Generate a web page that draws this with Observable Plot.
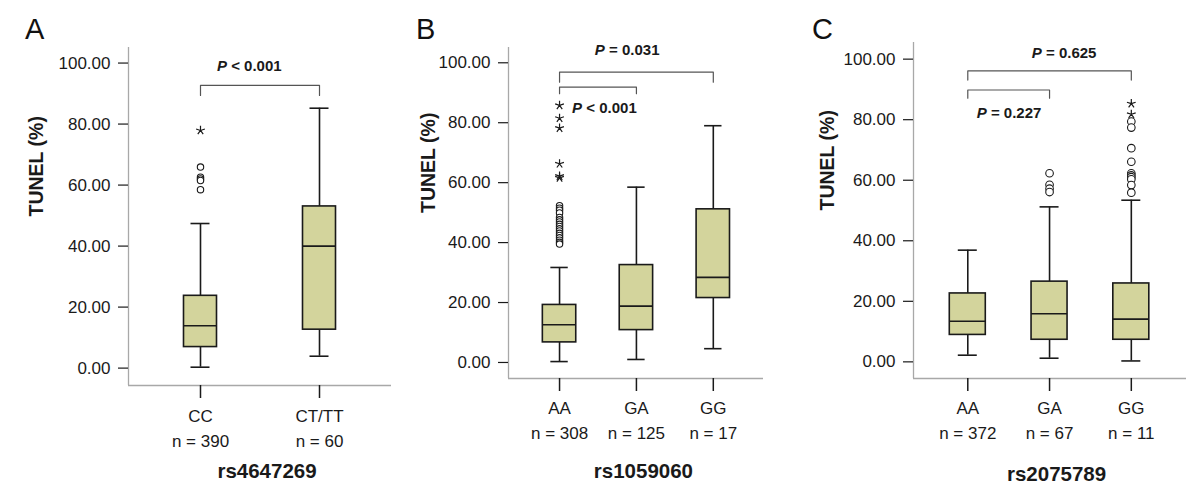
<!DOCTYPE html>
<html>
<head>
<meta charset="utf-8">
<script src="https://cdn.jsdelivr.net/npm/d3@7"></script>
<script src="https://cdn.jsdelivr.net/npm/@observablehq/plot@0.6"></script>
<style>
  html, body { margin: 0; padding: 0; background: #fff; }
  #root { position: relative; width: 1200px; height: 498px; overflow: hidden; background: #fff;
          font-family: 'Liberation Sans', Arial, Helvetica, sans-serif; color: #111; }
  .panel { position: absolute; top: 0; }
  .letter { position: absolute; font-size: 29px; line-height: 29px; color: #111; }
</style>
</head>
<body>
<div id="root"></div>
<script>
// ---------------- DATA ----------------
const yTicks = [0, 20, 40, 60, 80, 100];

// Panel A: rs4647269
const titleA = "rs4647269";
const catsA = ["CC", "CT/TT"];
const nA = [390, 60];
const q1A = [6.9, 12.6];
const medA = [13.9, 40.0];
const q3A = [23.7, 53.0];
const loA = [0.3, 3.9];
const hiA = [47.4, 85.2];
const circlesA = [[0, 65.9], [0, 62.6], [0, 62.0], [0, 61.5], [0, 58.5]];
const starsA = [[0, 77.9]];
const bracketsA = [[0, 1, "P < 0.001"]];

// Panel B: rs1059060
const titleB = "rs1059060";
const catsB = ["AA", "GA", "GG"];
const nB = [308, 125, 17];
const q1B = [6.7, 10.8, 21.5];
const medB = [12.6, 18.8, 28.4];
const q3B = [19.2, 32.5, 51.1];
const loB = [0.3, 1.0, 4.6];
const hiB = [31.7, 58.5, 79.0];
const circlesB = [[0, 52.3], [0, 51.5], [0, 50.8], [0, 49.9], [0, 48.4], [0, 47.6], [0, 46.9],
                  [0, 46.1], [0, 45.4], [0, 44.6], [0, 43.9], [0, 43.1], [0, 42.4], [0, 41.6],
                  [0, 40.8], [0, 40.1], [0, 39.5]];
const starsB = [[0, 85.8], [0, 81.5], [0, 78.2], [0, 66.3], [0, 62.2], [0, 61.6]];
const bracketsB = [[0, 2, "P = 0.031"], [0, 1, "P < 0.001"]];

// Panel C: rs2075789
const titleC = "rs2075789";
const catsC = ["AA", "GA", "GG"];
const nC = [372, 67, 11];
const q1C = [8.9, 7.3, 7.3];
const medC = [13.4, 15.9, 14.1];
const q3C = [22.6, 26.5, 25.9];
const loC = [2.2, 1.2, 0.3];
const hiC = [36.9, 51.2, 53.4];
const circlesC = [[1, 62.3], [1, 58.5], [1, 57.2], [1, 56.1],
                  [2, 79.4], [2, 77.4], [2, 70.6], [2, 66.1], [2, 62.3], [2, 61.6], [2, 61.0],
                  [2, 60.3], [2, 58.4], [2, 55.9]];
const starsC = [[2, 85.3], [2, 81.8]];
const bracketsC = [[0, 2, "P = 0.625"], [0, 1, "P = 0.227"]];

// ---------------- LAYOUT ----------------
const FONT = "'Liberation Sans', Arial, Helvetica, sans-serif";
const BOX_FILL = "#d3d49c";
const INK = "#1a1a1a";

// five-armed asterisk symbol used for extreme outliers
const star5 = {
  draw(context, size) {
    const r = Math.sqrt(size / Math.PI);
    for (let k = 0; k < 5; ++k) {
      const a = -Math.PI / 2 + k * 2 * Math.PI / 5;
      context.moveTo(0, 0);
      context.lineTo(r * Math.cos(a), r * Math.sin(a));
    }
  }
};

const layouts = [
  { letter: "A", left: 0, lx: 25, ly: 15, ml: 128, mr: 9, mt: 47, mb: 113,
    xDomain: [-0.605, 1.605], yDomain: [-5.7, 105.1], boxPx: 16.5, capPx: 9.5, r: 3.2,
    brY: [[92.7, 89.4]], brText: [[0.41, 99]],
    catDy: 36, nDy: 61, titleDy: 92, ylabDx: -92 },
  { letter: "B", left: 400, lx: 416, ly: 15, ml: 108, mr: 37, mt: 47, mb: 120,
    xDomain: [-0.664, 2.653], yDomain: [-5.35, 105.1], boxPx: 16.7, capPx: 8.7, r: 3.2,
    brY: [[96.9, 93.5], [91.9, 89.7]], brText: [[0.88, 104.1], [0.584, 85]],
    catDy: 35.5, nDy: 60.5, titleDy: 99, ylabDx: -80 },
  { letter: "C", left: 800, lx: 812, ly: 15, ml: 113, mr: 14, mt: 42, mb: 120,
    xDomain: [-0.664, 2.675], yDomain: [-5.5, 105.5], boxPx: 18, capPx: 9.5, r: 3.8,
    brY: [[96.1, 93.1], [89.8, 87.1]], brText: [[1.178, 101.9], [0.505, 82]],
    catDy: 35.5, nDy: 60.5, titleDy: 102, ylabDx: -86 }
];

const datasets = [
  { title: titleA, cats: catsA, n: nA, q1: q1A, med: medA, q3: q3A, lo: loA, hi: hiA,
    circles: circlesA, stars: starsA, brackets: bracketsA },
  { title: titleB, cats: catsB, n: nB, q1: q1B, med: medB, q3: q3B, lo: loB, hi: hiB,
    circles: circlesB, stars: starsB, brackets: bracketsB },
  { title: titleC, cats: catsC, n: nC, q1: q1C, med: medC, q3: q3C, lo: loC, hi: hiC,
    circles: circlesC, stars: starsC, brackets: bracketsC }
];

function panel(d, L) {
  const W = 400, H = 498;
  const k = (L.xDomain[1] - L.xDomain[0]) / (W - L.ml - L.mr);
  const hw = L.boxPx * k, cw = L.capPx * k;
  const idx = d.cats.map((_, i) => i);
  const boxes = idx.map(i => ({ i, q1: d.q1[i], med: d.med[i], q3: d.q3[i], lo: d.lo[i], hi: d.hi[i] }));
  const circles = d.circles.map(([i, v]) => ({ i, v }));
  const stars = d.stars.map(([i, v]) => ({ i, v }));
  const brLines = [];
  d.brackets.forEach(([a, b], j) => {
    const [h, leg] = L.brY[j];
    brLines.push({ id: j, x: a, y: leg }, { id: j, x: a, y: h }, { id: j, x: b, y: h }, { id: j, x: b, y: leg });
  });
  const brLabels = d.brackets.map(([a, b, t], j) => ({ t, x: L.brText[j][0], y: L.brText[j][1] }));
  const mid = (idx.length - 1) / 2;

  const svg = Plot.plot({
    width: W, height: H,
    marginLeft: L.ml, marginRight: L.mr, marginTop: L.mt, marginBottom: L.mb,
    style: { fontFamily: FONT, fontSize: "17px", color: INK, background: "transparent", overflow: "visible" },
    x: { type: "linear", domain: L.xDomain },
    y: { type: "linear", domain: L.yDomain },
    marks: [
      // axis lines (gray)
      Plot.ruleX([L.xDomain[0]], { stroke: "#a8a8a8", strokeWidth: 1.3 }),
      Plot.ruleY([L.yDomain[0]], { stroke: "#a8a8a8", strokeWidth: 1.3 }),
      Plot.axisY({ ticks: yTicks, tickFormat: v => v.toFixed(2), tickSize: 10, tickPadding: 8,
                   label: null, fontSize: 17, strokeWidth: 1.2 }),
      Plot.axisX({ ticks: idx, tickSize: 13, tickFormat: () => "", label: null, strokeWidth: 1.5 }),
      // whiskers
      Plot.ruleX(boxes, { x: "i", y1: "q3", y2: "hi", stroke: INK, strokeWidth: 1.6 }),
      Plot.ruleX(boxes, { x: "i", y1: "lo", y2: "q1", stroke: INK, strokeWidth: 1.6 }),
      Plot.ruleY(boxes, { y: "hi", x1: b => b.i - cw, x2: b => b.i + cw, stroke: INK, strokeWidth: 1.6 }),
      Plot.ruleY(boxes, { y: "lo", x1: b => b.i - cw, x2: b => b.i + cw, stroke: INK, strokeWidth: 1.6 }),
      // boxes
      Plot.rect(boxes, { x1: b => b.i - hw, x2: b => b.i + hw, y1: "q1", y2: "q3",
                         fill: BOX_FILL, stroke: INK, strokeWidth: 1.6 }),
      Plot.ruleY(boxes, { y: "med", x1: b => b.i - hw, x2: b => b.i + hw, stroke: INK, strokeWidth: 1.6 }),
      // outliers
      Plot.dot(circles, { x: "i", y: "v", r: L.r, stroke: INK, strokeWidth: 1.1, fill: "white" }),
      Plot.dot(stars, { x: "i", y: "v", r: 4.6, symbol: star5, stroke: INK, strokeWidth: 1.2, fill: "none" }),
      // brackets
      Plot.line(brLines, { x: "x", y: "y", z: "id", stroke: "#555", strokeWidth: 1.2 }),
      Plot.text(brLabels, { x: "x", y: "y", text: "t", fontSize: 15, fontWeight: "bold", fill: INK }),
      // category labels
      Plot.text(idx, { x: i => i, frameAnchor: "bottom", dy: L.catDy, text: i => d.cats[i], fontSize: 17, fill: INK }),
      Plot.text(idx, { x: i => i, frameAnchor: "bottom", dy: L.nDy, text: i => "n = " + d.n[i], fontSize: 17, fill: INK }),
      Plot.text([d.title], { x: () => mid, frameAnchor: "bottom", dy: L.titleDy, dx: 7, text: t => t,
                             fontSize: 20.5, fontWeight: "bold", fill: INK }),
      // y label
      Plot.text(["TUNEL (%)"], { frameAnchor: "left", dx: L.ylabDx, rotate: -90, text: t => t,
                                 fontSize: 19.5, fontWeight: "bold", fill: INK })
    ]
  });

  // italic "P" in p-value labels
  svg.querySelectorAll("text").forEach(t => {
    const s = t.textContent;
    if (/^P [<=]/.test(s) && t.children.length === 0) {
      t.textContent = "";
      const ns = "http://www.w3.org/2000/svg";
      const a = document.createElementNS(ns, "tspan");
      a.setAttribute("font-style", "italic");
      a.textContent = "P";
      const b = document.createElementNS(ns, "tspan");
      b.textContent = s.slice(1);
      t.appendChild(a); t.appendChild(b);
    }
  });
  return svg;
}

const root = document.getElementById("root");
datasets.forEach((d, j) => {
  const L = layouts[j];
  const wrap = document.createElement("div");
  wrap.className = "panel";
  wrap.style.left = L.left + "px";
  wrap.appendChild(panel(d, L));
  root.appendChild(wrap);
  const letter = document.createElement("div");
  letter.className = "letter";
  letter.style.left = L.lx + "px";
  letter.style.top = L.ly + "px";
  letter.textContent = L.letter;
  root.appendChild(letter);
});
</script>
</body>
</html>
